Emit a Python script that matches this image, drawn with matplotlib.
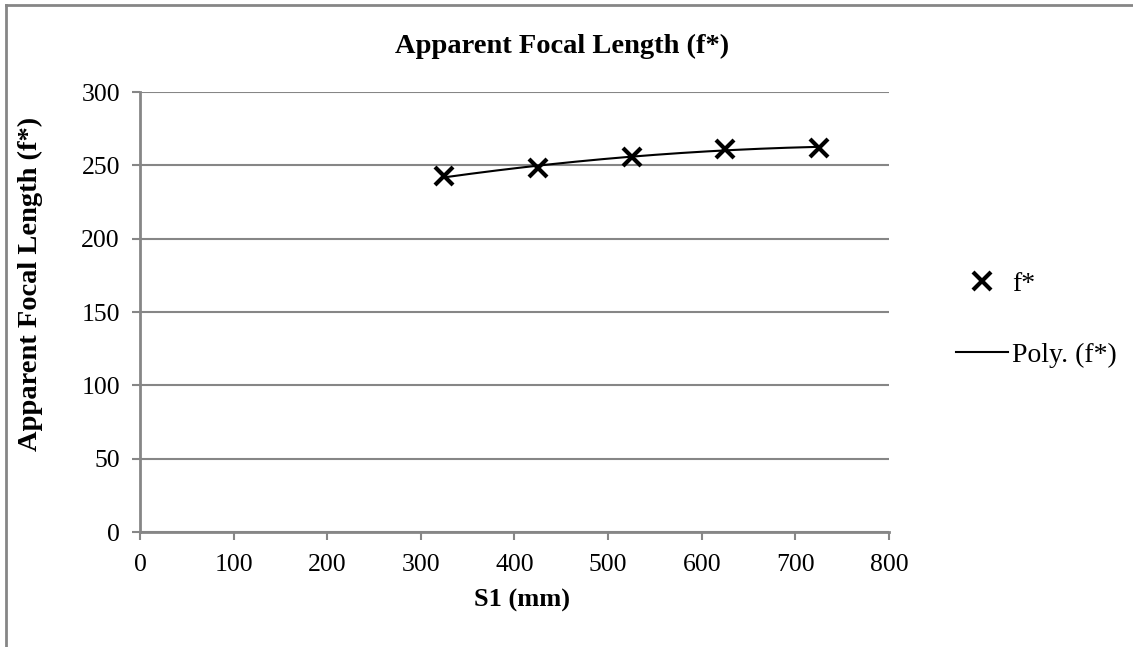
import matplotlib.pyplot as plt
import numpy as np
from matplotlib.lines import Line2D

S1_MM = [325, 425, 525, 625, 725]
F_STAR = [242.5, 248.5, 256.0, 261.5, 262.0]

X_TICKS = [0, 100, 200, 300, 400, 500, 600, 700, 800]
Y_TICKS = [0, 50, 100, 150, 200, 250, 300]

GREY = "#868686"

plt.rcParams["font.family"] = ["Liberation Serif", "DejaVu Serif"]

fig = plt.figure(figsize=(11.33, 6.47), dpi=100)
ax = fig.add_axes([0.1236, 0.1777, 0.661, 0.680])

# order-2 trendline, as Excel's "Poly." trendline
coef = np.polyfit(S1_MM, F_STAR, 2)
xs = np.linspace(S1_MM[0], S1_MM[-1], 200)
ax.plot(xs, np.polyval(coef, xs), color="black", lw=1.5, zorder=3)
ax.plot(S1_MM, F_STAR, ls="none", marker="x", color="black",
        markersize=13, markeredgewidth=3, zorder=4)

ax.set_xlim(0, 800)
ax.set_ylim(0, 300)
ax.set_xticks(X_TICKS)
ax.set_yticks(Y_TICKS)
ax.tick_params(axis="both", labelsize=18.5, color=GREY, width=1.5,
               direction="out", length=5.5)
ax.tick_params(axis="x", pad=10.5)
ax.tick_params(axis="y", pad=9)
ax.yaxis.grid(True, color=GREY, lw=1.5)
ax.set_axisbelow(True)
for side in ("top", "right"):
    ax.spines[side].set_visible(False)
for side in ("left", "bottom"):
    ax.spines[side].set_color(GREY)
    ax.spines[side].set_linewidth(2)

# titles placed in figure coords, like the Excel chart area
fig.text(0.496, 0.929, "Apparent Focal Length (f*)", fontsize=20.5,
         fontweight="bold", ha="center", va="center")
fig.text(0.4607, 0.0726, "S1 (mm)", fontsize=19, fontweight="bold",
         ha="center", va="center")
fig.text(0.027, 0.561, "Apparent Focal Length (f*)", fontsize=20.5,
         fontweight="bold", ha="center", va="center", rotation=90)

handles = [
    Line2D([], [], ls="none", marker="x", color="black", markersize=13,
           markeredgewidth=3),
    Line2D([], [], color="black", lw=1.5),
]
fig.legend(handles, ["f*", "Poly. (f*)"], loc="center left",
           bbox_to_anchor=(0.8440, 0.506), frameon=False, fontsize=20,
           labelspacing=1.65, handlelength=1.85, handletextpad=0.15,
           borderpad=0, borderaxespad=0)

# outer chart border (left and top only visible)
fig.add_artist(Line2D([0.005, 0.005], [0.0, 0.9915], color=GREY, lw=2,
                      transform=fig.transFigure))
fig.add_artist(Line2D([0.005, 1.0], [0.9915, 0.9915], color=GREY, lw=2,
                      transform=fig.transFigure))

fig.savefig("out.png", dpi=100)
